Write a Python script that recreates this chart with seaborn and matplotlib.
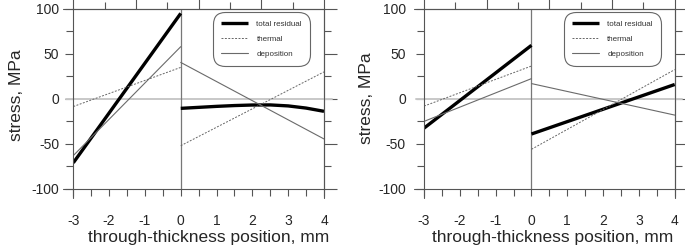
import matplotlib
matplotlib.use("Agg")
import matplotlib.pyplot as plt
import seaborn as sns
import numpy as np

# through-thickness positions (mm)
x_in = [-3, 0]
x_out = [0, 0.5, 1, 1.5, 2, 2.5, 3, 3.5, 4]
x_out2 = [0, 4]

# left panel
a_total_in = [-71, 95]
a_thermal_in = [-8.5, 35]
a_depo_in = [-63, 58]
a_total_out = [-10.5, -9.4, -8.3, -7.4, -6.8, -6.7, -7.8, -10.2, -13.8]
a_thermal_out = [-52, 30]
a_depo_out = [40.5, -44.5]

# right panel
b_total_in = [-32.5, 59.5]
b_thermal_in = [-8, 36.5]
b_depo_in = [-25, 22.5]
b_total_out = [-39, 16]
b_thermal_out = [-56, 32.5]
b_depo_out = [17, -18]

xticks = [-3, -2, -1, 0, 1, 2, 3, 4]
yticks = [-100, -50, 0, 50, 100]
labels = ["total residual", "thermal", "deposition"]

sns.set_style("ticks")
plt.rcParams["font.family"] = ["Liberation Sans", "DejaVu Sans"]
plt.rcParams["axes.unicode_minus"] = False

fig = plt.figure(figsize=(6.85, 2.46), dpi=100)
ax1 = fig.add_axes([0.107, 0.232, 0.366, 0.732])
ax2 = fig.add_axes([0.619, 0.232, 0.366, 0.732])

spine_c = "#555555"
total_kw = dict(color="black", lw=2.4, solid_capstyle="butt")
therm_kw = dict(color="#666666", lw=0.7, linestyle=(0, (2, 1.5)))
depo_kw = dict(color="#6a6a6a", lw=0.8)


def panel(ax, tin, thin, din, tout, thout, dout, ypad, xlab_x, ylab):
    sns.lineplot(x=x_in, y=tin, ax=ax, label=labels[0], **total_kw)
    sns.lineplot(x=x_in, y=thin, ax=ax, label=labels[1], **therm_kw)
    sns.lineplot(x=x_in, y=din, ax=ax, label=labels[2], **depo_kw)
    sns.lineplot(x=x_out if len(tout) == len(x_out) else x_out2, y=tout,
                 ax=ax, **total_kw)
    sns.lineplot(x=x_out2, y=thout, ax=ax, **therm_kw)
    sns.lineplot(x=x_out2, y=dout, ax=ax, **depo_kw)

    ax.set_xlim(-3, 4)
    ax.set_ylim(-100, 100)
    ax.axhline(0, xmin=-0.03, xmax=1.03, color="#c8c8c8", lw=1.4,
               clip_on=False, zorder=1)
    ax.axvline(0, color="#777777", lw=0.9, zorder=1)

    for s in ax.spines.values():
        s.set_visible(True)
        s.set_color(spine_c)
        s.set_linewidth(0.8)

    ax.set_xticks(xticks)
    ax.set_xticks(np.arange(-3, 4.01, 0.5), minor=True)
    ax.set_yticks(yticks)
    ax.set_yticks(np.arange(-100, 101, 25), minor=True)
    ax.tick_params(axis="x", which="both", direction="out", length=5,
                   width=0.8, color=spine_c, labelsize=10, pad=13)
    ax.tick_params(axis="y", which="major", direction="out", length=6,
                   width=0.8, color=spine_c, labelsize=10, pad=ypad)
    ax.tick_params(axis="y", which="minor", direction="out", length=5,
                   width=0.8, color=spine_c)

    # top scale: eight equal divisions
    top = ax.secondary_xaxis("top", functions=(lambda v: (v + 3) * 8 / 7,
                                               lambda t: t * 7 / 8 - 3))
    top.set_xticks([0, 2, 4, 6, 8])
    top.set_xticks([1, 3, 5, 7], minor=True)
    top.tick_params(which="major", direction="out", length=9, width=0.8,
                    color=spine_c, labeltop=False)
    top.tick_params(which="minor", direction="out", length=5, width=0.8,
                    color=spine_c)
    top.spines["top"].set_color(spine_c)
    top.spines["top"].set_linewidth(0.8)

    right = ax.secondary_yaxis("right")
    right.set_yticks(yticks)
    right.set_yticks(np.arange(-75, 100, 50), minor=True)
    right.tick_params(which="major", direction="out", length=9, width=0.8,
                      color=spine_c, labelright=False)
    right.tick_params(which="minor", direction="out", length=5, width=0.8,
                      color=spine_c)
    right.spines["right"].set_color(spine_c)
    right.spines["right"].set_linewidth(0.8)

    # corner extensions of the frame
    for xv in ax.get_xlim():
        ax.axvline(xv, ymin=-0.05, ymax=0, color=spine_c, lw=0.8, clip_on=False)
    for yv in ax.get_ylim():
        ax.axhline(yv, xmin=-0.04, xmax=0, color=spine_c, lw=0.8, clip_on=False)

    ax.set_xlabel("through-thickness position, mm", fontsize=12.5)
    ax.set_ylabel("stress, MPa", fontsize=12.5)
    ax.xaxis.set_label_coords(xlab_x, -0.228)
    ax.yaxis.set_label_coords(ylab[0], ylab[1])

    leg = ax.legend(loc="upper left", bbox_to_anchor=(0.557, 0.983),
                    fontsize=5.8, handlelength=3.4, handletextpad=1.0,
                    labelspacing=0.95, borderpad=1.0, borderaxespad=0,
                    frameon=True, fancybox=True, framealpha=1)
    fr = leg.get_frame()
    fr.set_edgecolor("#666666")
    fr.set_linewidth(0.8)
    fr.set_boxstyle("round", pad=0, rounding_size=1.5)
    for t in leg.get_texts():
        t.set_color("#333333")


panel(ax1, a_total_in, a_thermal_in, a_depo_in, a_total_out, a_thermal_out,
      a_depo_out, 4, 0.541, (-0.197, 0.522))
panel(ax2, b_total_in, b_thermal_in, b_depo_in, b_total_out, b_thermal_out,
      b_depo_out, 7, 0.511, (-0.2, 0.505))

fig.savefig("out.png", dpi=100)
